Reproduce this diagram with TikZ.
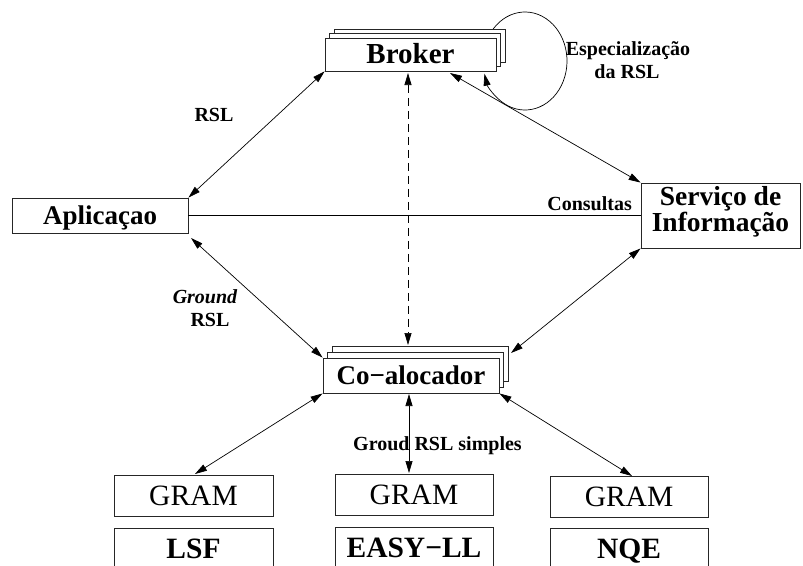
\documentclass[tikz,border=0pt]{standalone}
\usepackage{fontspec}
\setmainfont{Liberation Serif}
\usetikzlibrary{arrows.meta}
\begin{document}
\begin{tikzpicture}[x=1pt,y=-1pt,
  box/.style={draw=black!85, line width=0.9pt, fill=white, inner sep=0pt, text depth=0pt},
  big/.style={font=\fontsize{27}{25}\selectfont\bfseries, text height=18pt},
  gram/.style={font=\fontsize{29.5}{30}\selectfont, text height=19.5pt},
  low/.style={font=\fontsize{29.5}{30}\selectfont\bfseries, text height=19.5pt},
  lab/.style={font=\fontsize{20}{22}\selectfont\bfseries, inner sep=0pt},
  conn/.style={line width=0.7pt, {Triangle[length=12pt,width=7pt]}-{Triangle[length=12pt,width=7pt]}},
]
\useasboundingbox (0,0) rectangle (803,565);

% self loop of the broker
\coordinate (loopc) at (525,61);
\draw[line width=0.7pt, -{Triangle[length=12pt,width=7pt]}] (loopc) ++(210:42 and 49)
  arc[start angle=210, end angle=525, x radius=42, y radius=49];

% Broker stack
\node[box, minimum width=171, minimum height=33] (brokerB) at (419.5,45.5) {};
\node[box, minimum width=171, minimum height=33] (brokerM) at (415,50) {};
\node[box, big, font=\fontsize{29}{25}\selectfont\bfseries, minimum width=171, minimum height=33] (broker) at (410.5,54.5) {Broker};

% Co-alocador stack
\node[box, minimum width=176, minimum height=35] (coalB) at (420,363.5) {};
\node[box, minimum width=176, minimum height=35] (coalM) at (415.5,369.5) {};
\node[box, big, minimum width=176, minimum height=35] (coal) at (411,375.5) {Co−alocador};

% side boxes
\node[box, big, minimum width=176, minimum height=35] (aplic) at (100,215.5) {Aplicaçao};
\node[box, big, font=\fontsize{27.5}{25.5}\selectfont\bfseries, align=center, text height=31pt, minimum width=159, minimum height=65] (serv) at (720.5,215.5) {Serviço de\\Informação};

% bottom boxes
\node[box, gram, minimum width=159, minimum height=41] (gram1) at (193.5,495.5) {GRAM};
\node[box, gram, minimum width=158, minimum height=41] (gram2) at (414,494.5) {GRAM};
\node[box, gram, minimum width=158, minimum height=41] (gram3) at (629,497) {GRAM};
\node[box, low, minimum width=159, minimum height=41] (lsf) at (193.5,548.5) {LSF};
\node[box, low, minimum width=158, minimum height=41] (easy) at (414,547.5) {EASY−LL};
\node[box, low, minimum width=158, minimum height=41] (nqe) at (629,548.5) {NQE};

% labels
\node[lab, anchor=base] (rsltop) at (214,121) {RSL};
\node[lab, anchor=base, font=\fontsize{20}{22}\selectfont\bfseries\itshape] (ground) at (205,303) {Ground};
\node[lab, anchor=base] (rslground) at (210,326) {RSL};
\node[lab, anchor=base] (esp1) at (628,55) {Especialização};
\node[lab, anchor=base] (esp2) at (627,78) {da RSL};
\node[lab, anchor=base east] (cons) at (632,210) {Consultas};
\node[lab, anchor=base] (groud) at (437.5,450) {Groud RSL simples};

% connector end points
\coordinate (aplicSE) at (191,238);
\coordinate (brokerS) at (450,73);
\coordinate (coalR) at (511,353);
\coordinate (brokerD) at (408,73);
\coordinate (coalD) at (408,345);
\coordinate (gram1T) at (195,474);
\coordinate (coalS) at (409,394);
\coordinate (gram2T) at (409,473);
\coordinate (gram3T) at (632,476);

% connectors
\draw[line width=0.7pt] (aplic.east) -- (serv.west);
\draw[conn] (broker.south west) -- (aplic.north east);
\draw[conn] (aplicSE) -- (coal.north west);
\draw[conn] (brokerS) -- (serv.north west);
\draw[conn] (serv.south west) -- (coalR);
\draw[conn, dash pattern=on 8pt off 5pt] (brokerD) -- (coalD);
\draw[conn] (coal.south west) -- (gram1T);
\draw[conn] (coalS) -- (gram2T);
\draw[conn] (coal.south east) -- (gram3T);
\end{tikzpicture}
\end{document}
